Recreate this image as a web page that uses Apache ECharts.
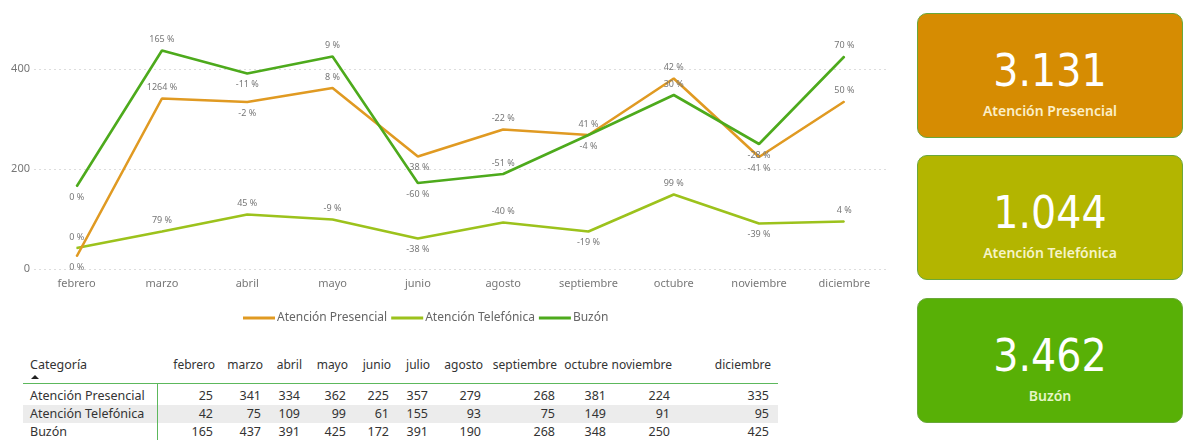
<!DOCTYPE html>
<html>
<head>
<meta charset="utf-8">
<script src="https://cdn.jsdelivr.net/npm/echarts@6/dist/echarts.min.js"></script>
<style>
  html, body { margin:0; padding:0; background:#fff; }
  #wrap { position:relative; width:1187px; height:440px; overflow:hidden; font-family:'Segoe UI','Noto Sans','Open Sans',sans-serif; }
  #chart { position:absolute; left:0; top:0; width:900px; height:340px; }
  .card { position:absolute; left:917px; width:266px; border:1px solid #6aa83a; border-radius:10px; box-sizing:border-box; text-align:center; }
  .card .num { position:absolute; left:0; right:0; font-family:'DejaVu Sans Condensed','Liberation Sans Narrow',sans-serif; font-size:44px; color:#fff; line-height:1; }
  .card .lab { position:absolute; left:0; right:0; font-size:14px; font-weight:600; line-height:1; }
  #tbl { position:absolute; left:0; top:350px; width:800px; height:90px; font-size:12.5px; color:#333; }
  #tbl .cell { position:absolute; white-space:nowrap; line-height:18px; }
</style>
</head>
<body>
<div id="wrap">
  <div id="chart"></div>
  <div id="tbl"></div>
  <div id="cards"></div>
</div>
<script>
// ---- data ----
const chartMonths = ['febrero','marzo','abril','mayo','junio','agosto','septiembre','octubre','noviembre','diciembre'];
const presencial = [25, 341, 334, 362, 225, 279, 268, 381, 224, 335];
const telefonica = [42, 75, 109, 99, 61, 93, 75, 149, 91, 95];
const buzon = [165, 437, 391, 425, 172, 190, 268, 348, 250, 425];
const presencialPct = ['0 %','1264 %','-2 %','8 %','-38 %','-22 %','-4 %','42 %','-41 %','50 %'];
const telefonicaPct = ['0 %','79 %','45 %','-9 %','-38 %','-40 %','-19 %','99 %','-39 %','4 %'];
const buzonPct = ['0 %','165 %','-11 %','9 %','-60 %','-51 %','41 %','30 %','-28 %','70 %'];
const yTicks = [0, 200, 400];
const seriesNames = ['Atención Presencial','Atención Telefónica','Buzón'];

const tableMonths = ['febrero','marzo','abril','mayo','junio','julio','agosto','septiembre','octubre','noviembre','diciembre'];
const tablePresencial = [25, 341, 334, 362, 225, 357, 279, 268, 381, 224, 335];
const tableTelefonica = [42, 75, 109, 99, 61, 155, 93, 75, 149, 91, 95];
const tableBuzon = [165, 437, 391, 425, 172, 391, 190, 268, 348, 250, 425];

const cardTotals = ['3.131', '1.044', '3.462'];

// ---- styling (label placement: t = above, b = below) ----
const colors = ['#E09A22', '#9CC21C', '#4DAA1C'];
const presPlace = ['b','t','b','t','b','t','b','t','b','t'];
const telPlace  = ['t','t','t','t','b','t','b','t','b','t'];
const buzPlace  = ['b','t','b','t','b','t','t','t','b','t'];

function mkData(vals, pct, place) {
  return vals.map((v, i) => ({
    value: v,
    label: { position: place[i] === 't' ? 'top' : 'bottom', formatter: pct[i] }
  }));
}

const chart = echarts.init(document.getElementById('chart'), null, { renderer: 'canvas' });
function mkSeries(name, vals, pct, place, color, z) {
  return {
    name, type: 'line', data: mkData(vals, pct, place),
    symbol: 'circle', symbolSize: 1, showSymbol: true, clip: false, z,
    lineStyle: { color, width: 2.6 },
    itemStyle: { color },
    label: { show: true, fontSize: 9, color: '#777', distance: 6, fontFamily: "'Segoe UI','Noto Sans',sans-serif" },
    labelLayout: { hideOverlap: false },
    emphasis: { disabled: true }
  };
}
chart.setOption({
  animation: false,
  textStyle: { fontFamily: "'Segoe UI','Noto Sans',sans-serif" },
  grid: { left: 34, right: 13, top: 69, bottom: 71, containLabel: false },
  legend: {
    left: 238, top: 307, itemWidth: 32, itemHeight: 3, itemGap: 4,
    icon: 'rect',
    textStyle: { color: '#666', fontSize: 12, padding: [0, 0, 0, -3] },
    data: seriesNames
  },
  xAxis: {
    type: 'category', data: chartMonths, boundaryGap: true,
    axisLine: { show: false }, axisTick: { show: false },
    axisLabel: { color: '#777', fontSize: 11, margin: 9 }
  },
  yAxis: {
    type: 'value', min: yTicks[0], max: yTicks[yTicks.length - 1], interval: yTicks[1] - yTicks[0],
    axisLine: { show: false }, axisTick: { show: false },
    axisLabel: { color: '#777', fontSize: 11, margin: 4 },
    splitLine: { lineStyle: { color: '#ddd', type: [2, 3] } }
  },
  series: [
    mkSeries(seriesNames[0], presencial, presencialPct, presPlace, colors[0], 3),
    mkSeries(seriesNames[1], telefonica, telefonicaPct, telPlace, colors[1], 2),
    mkSeries(seriesNames[2], buzon, buzonPct, buzPlace, colors[2], 4)
  ]
});

// ---- table ----
const tbl = document.getElementById('tbl');
const colRight = [213, 261, 300, 346, 389, 428, 481, 555, 606, 670, 769];
function addCell(text, x, y, align, extra) {
  const d = document.createElement('div');
  d.className = 'cell';
  d.textContent = text;
  d.style.top = y + 'px';
  if (align === 'right') { d.style.right = (800 - x) + 'px'; } else { d.style.left = x + 'px'; }
  if (extra) Object.assign(d.style, extra);
  tbl.appendChild(d);
}
const bg = document.createElement('div');
Object.assign(bg.style, { position:'absolute', left:'23px', top:'55px', width:'755px', height:'18px', background:'#ececec' });
tbl.appendChild(bg);
const hl = document.createElement('div');
Object.assign(hl.style, { position:'absolute', left:'23px', top:'33px', width:'755px', height:'1px', background:'#5cb85c' });
tbl.appendChild(hl);
const vl = document.createElement('div');
Object.assign(vl.style, { position:'absolute', left:'157px', top:'33px', width:'1px', height:'60px', background:'#5cb85c' });
tbl.appendChild(vl);
addCell('Categoría', 30, 6, 'left');
const arrow = document.createElement('div');
Object.assign(arrow.style, { position:'absolute', left:'31px', top:'25px', width:'0', height:'0', borderLeft:'4px solid transparent', borderRight:'4px solid transparent', borderBottom:'4px solid #222' });
tbl.appendChild(arrow);
tableMonths.forEach((m, i) => addCell(m, colRight[i] + 2, 6, 'right', { fontSize: '12px' }));
const rows = [[seriesNames[0], tablePresencial], [seriesNames[1], tableTelefonica], [seriesNames[2], tableBuzon]];
rows.forEach((r, ri) => {
  const y = 37 + ri * 18;
  addCell(r[0], 30, y, 'left');
  r[1].forEach((v, i) => addCell(String(v), colRight[i], y, 'right'));
});

// ---- cards ----
const cards = document.getElementById('cards');
const cardBg = ['#D68C02', '#B3B500', '#58B006'];
const cardLabCol = ['#FBEFC8', '#F6F4C8', '#E6F5C8'];
const cardTop = [13, 155, 298];
cardTotals.forEach((t, i) => {
  const c = document.createElement('div');
  c.className = 'card';
  Object.assign(c.style, { top: cardTop[i] + 'px', height: '125px', background: cardBg[i] });
  const n = document.createElement('div'); n.className = 'num'; n.textContent = t; n.style.top = '35px';
  const l = document.createElement('div'); l.className = 'lab'; l.textContent = seriesNames[i]; l.style.top = '90px'; l.style.color = cardLabCol[i];
  c.appendChild(n); c.appendChild(l);
  cards.appendChild(c);
});
</script>
</body>
</html>
